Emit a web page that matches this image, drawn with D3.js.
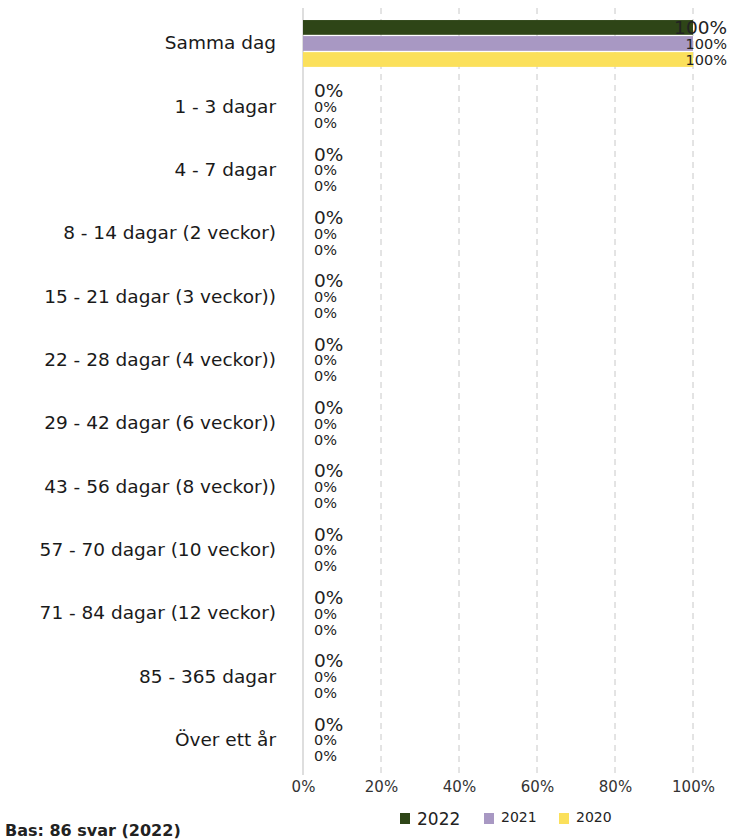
<!DOCTYPE html>
<html>
<head>
<meta charset="utf-8">
<script src="https://cdn.jsdelivr.net/npm/d3@7"></script>
<style>
  html, body { margin: 0; padding: 0; background: #fff; }
  svg { display: block; }
  text { font-family: "DejaVu Sans", Verdana, sans-serif; }
</style>
</head>
<body>
<div id="chart"></div>
<script>
// Categories (time until answer) and shares per survey year
const categories = [
  "Samma dag",
  "1 - 3 dagar",
  "4 - 7 dagar",
  "8 - 14 dagar (2 veckor)",
  "15 - 21 dagar (3 veckor))",
  "22 - 28 dagar (4 veckor))",
  "29 - 42 dagar (6 veckor))",
  "43 - 56 dagar (8 veckor))",
  "57 - 70 dagar (10 veckor)",
  "71 - 84 dagar (12 veckor)",
  "85 - 365 dagar",
  "Över ett år"
];
const years = ["2022", "2021", "2020"];
const values2022 = [100, 0, 0, 0, 0, 0, 0, 0, 0, 0, 0, 0];
const values2021 = [100, 0, 0, 0, 0, 0, 0, 0, 0, 0, 0, 0];
const values2020 = [100, 0, 0, 0, 0, 0, 0, 0, 0, 0, 0, 0];
const xTicks = [0, 20, 40, 60, 80, 100];
const baseNote = "Bas: 86 svar (2022)";

const seriesValues = { "2022": values2022, "2021": values2021, "2020": values2020 };
const colors = { "2022": "#2e4517", "2021": "#a898c3", "2020": "#fbe05b" };
const labelSize = { "2022": 18.5, "2021": 14.5, "2020": 14.5 };

const W = 729, H = 840;
const svg = d3.select("#chart").append("svg").attr("width", W).attr("height", H);

const x = d3.scaleLinear().domain([0, 100]).range([303, 693]);
const y = d3.scaleBand().domain(categories).range([11.8, 771.8])
  .paddingInner(0.22).paddingOuter(0.11);
const ySub = d3.scaleBand().domain(years).range([0, y.bandwidth()]).padding(0.08);

// Gridlines (dashed) and the zero axis line
svg.append("g").selectAll("line").data(xTicks.filter(t => t > 0)).join("line")
  .attr("x1", d => x(d)).attr("x2", d => x(d))
  .attr("y1", 8).attr("y2", 775)
  .attr("stroke", "#c8c8c8").attr("stroke-width", 1)
  .attr("stroke-dasharray", "6,5");
svg.append("line")
  .attr("x1", x(0)).attr("x2", x(0)).attr("y1", 8).attr("y2", 775)
  .attr("stroke", "#bdbdbd").attr("stroke-width", 1);

// X axis tick labels
const xAxis = d3.axisBottom(x).tickValues(xTicks).tickFormat(d => d + "%").tickSize(0).tickPadding(0);
const gx = svg.append("g").attr("transform", "translate(0,781)").call(xAxis);
gx.select(".domain").remove();
gx.selectAll("text").attr("font-size", 15).attr("fill", "#333")
  .style("font-family", "'DejaVu Sans', Verdana, sans-serif");

// Category labels
const yAxis = d3.axisLeft(y).tickSize(0).tickPadding(0);
const gy = svg.append("g").attr("transform", "translate(276,0)").call(yAxis);
gy.select(".domain").remove();
gy.selectAll("text").attr("font-size", 18.5).attr("fill", "#1a1a1a")
  .style("font-family", "'DejaVu Sans', Verdana, sans-serif");

// Bars and value labels
const rows = [];
categories.forEach((c, i) => {
  years.forEach(yr => rows.push({ cat: c, year: yr, value: seriesValues[yr][i] }));
});

const groups = svg.append("g");
groups.selectAll("rect").data(rows).join("rect")
  .attr("x", x(0))
  .attr("y", d => y(d.cat) + ySub(d.year))
  .attr("width", d => x(d.value) - x(0))
  .attr("height", ySub.bandwidth())
  .attr("fill", d => colors[d.year]);

groups.selectAll("text").data(rows).join("text")
  .attr("x", d => {
    const px = x(d.value) + 11;
    return px + 40 > W ? W - 2 : px;
  })
  .attr("text-anchor", d => (x(d.value) + 51 > W ? "end" : "start"))
  .attr("y", d => y(d.cat) + ySub(d.year) + ySub.bandwidth() / 2)
  .attr("dy", "0.36em")
  .attr("font-size", d => labelSize[d.year])
  .attr("fill", "#222")
  .text(d => d.value + "%");

// Legend
const legendItems = [
  { year: "2022", x: 400, size: 17, base: 825 },
  { year: "2021", x: 484, size: 14, base: 822 },
  { year: "2020", x: 559, size: 14, base: 822 }
];
const lg = svg.append("g");
legendItems.forEach(it => {
  lg.append("rect").attr("x", it.x).attr("y", 813).attr("width", 10).attr("height", 11)
    .attr("fill", colors[it.year]);
  lg.append("text").attr("x", it.x + 17).attr("y", it.base)
    .attr("font-size", it.size).attr("fill", "#222").text(it.year);
});

// Base note
svg.append("text").attr("x", 5).attr("y", 836)
  .attr("font-size", 16).attr("font-weight", "bold").attr("fill", "#222")
  .text(baseNote);
</script>
</body>
</html>
